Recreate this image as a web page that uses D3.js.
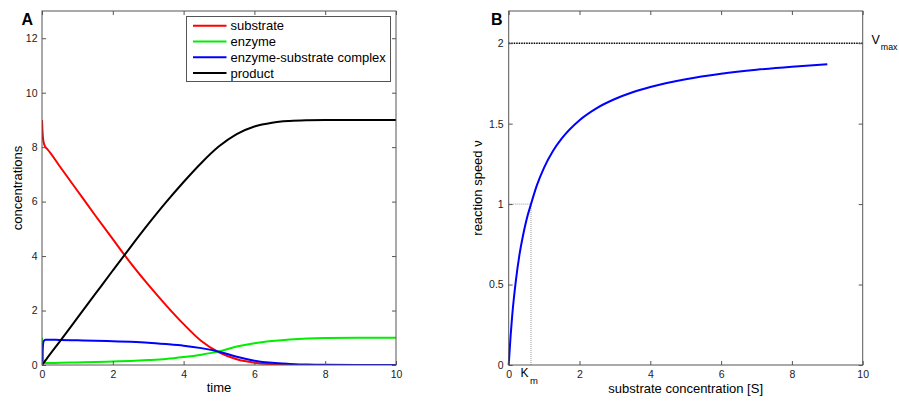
<!DOCTYPE html>
<html>
<head>
<meta charset="utf-8">
<script src="https://cdn.jsdelivr.net/npm/d3@7"></script>
<style>
  html, body { margin: 0; padding: 0; background: #fff; }
  svg { display: block; font-family: "Liberation Sans", Arial, Helvetica, sans-serif; }
</style>
</head>
<body>
<svg id="chart" width="899" height="401"></svg>
<script>
// ---- Panel A: time course of the enzyme reaction ----
const timePoints = [0, 0.02, 0.05, 0.1, 0.15, 0.5, 1, 1.5, 2, 2.5, 3, 3.5, 4, 4.5, 5, 5.5, 6, 6.5, 7, 7.5, 8, 9, 10];
const substrate  = [9.0, 8.45, 8.15, 8.0, 7.93, 7.3, 6.4, 5.5, 4.62, 3.75, 2.95, 2.2, 1.5, 0.88, 0.46, 0.21, 0.085, 0.03, 0.01, 0.003, 0.001, 0, 0];
const enzyme     = [1.0, 0.4, 0.12, 0.075, 0.07, 0.08, 0.095, 0.11, 0.13, 0.15, 0.18, 0.22, 0.29, 0.38, 0.5, 0.68, 0.8, 0.88, 0.94, 0.975, 0.99, 0.998, 1.0];
const complex    = [0, 0.6, 0.88, 0.925, 0.93, 0.92, 0.905, 0.89, 0.87, 0.85, 0.82, 0.77, 0.71, 0.62, 0.49, 0.3, 0.16, 0.08, 0.04, 0.015, 0.006, 0.001, 0];
const product    = [0, 0.03, 0.08, 0.17, 0.26, 0.86, 1.73, 2.6, 3.47, 4.33, 5.17, 5.97, 6.72, 7.42, 8.03, 8.48, 8.76, 8.9, 8.96, 8.985, 8.995, 9.0, 9.0];
const seriesNames  = ["substrate", "enzyme", "enzyme-substrate complex", "product"];
const seriesColors = ["#ff0000", "#00ee00", "#0000ff", "#000000"];
const timeTicks = [0, 2, 4, 6, 8, 10];
const concTicks = [0, 2, 4, 6, 8, 10, 12];

// ---- Panel B: Michaelis-Menten saturation curve ----
const substrateConc = [0, 0.05, 0.1, 0.2, 0.3, 0.4, 0.5, 0.63, 0.8, 1, 1.25, 1.5, 2, 2.5, 3, 3.5, 4, 5, 6, 7, 8, 9];
const reactionSpeed = [0, 0.17, 0.31, 0.52, 0.68, 0.8, 0.9, 1.0, 1.119, 1.227, 1.33, 1.408, 1.521, 1.598, 1.653, 1.695, 1.728, 1.776, 1.81, 1.835, 1.854, 1.869];
const vMax = 2;
const kM = 0.63;
const sTicks = [0, 2, 4, 6, 8, 10];
const vTicks = [0, 0.5, 1, 1.5, 2];

const svg = d3.select("#chart");
svg.append("rect").attr("width", 899).attr("height", 401).attr("fill", "#fff");

const axisColor = "#555";
const textColor = "#222";
const tickLen = 4;

function drawFrame(g, x, y, xTicks, yTicks, padX, padY) {
  const [x0, x1] = x.range();
  const [y0, y1] = y.range();
  const styleAxis = sel => {
    sel.select(".domain").remove();
    sel.selectAll(".tick line").attr("stroke", axisColor).attr("stroke-width", 1);
    sel.selectAll(".tick text").attr("fill", textColor).attr("font-size", "10.5px")
      .attr("font-family", "Liberation Sans, Arial, sans-serif");
  };
  g.append("g").attr("transform", `translate(0,${y0})`)
    .call(d3.axisBottom(x).tickValues(xTicks).tickSize(-tickLen).tickPadding(padX).tickFormat(d3.format("")))
    .call(styleAxis);
  g.append("g").attr("transform", `translate(0,${y1})`)
    .call(d3.axisTop(x).tickValues(xTicks).tickSize(-tickLen).tickFormat(""))
    .call(styleAxis);
  g.append("g").attr("transform", `translate(${x0},0)`)
    .call(d3.axisLeft(y).tickValues(yTicks).tickSize(-tickLen).tickPadding(padY).tickFormat(d3.format("")))
    .call(styleAxis);
  g.append("g").attr("transform", `translate(${x1},0)`)
    .call(d3.axisRight(y).tickValues(yTicks).tickSize(-tickLen).tickFormat(""))
    .call(styleAxis);
  g.append("rect")
    .attr("x", x0).attr("y", y1).attr("width", x1 - x0).attr("height", y0 - y1)
    .attr("fill", "none").attr("stroke", axisColor).attr("stroke-width", 1);
}

// ================= Panel A =================
const gA = svg.append("g");
const xA = d3.scaleLinear().domain([0, 10]).range([42, 396]);
const yA = d3.scaleLinear().domain([0, 13]).range([365, 11]);

gA.append("clipPath").attr("id", "clipA").append("rect")
  .attr("x", 42).attr("y", 11).attr("width", 354).attr("height", 354);

const seriesA = [substrate, enzyme, complex, product];
const lineA = d3.line().x(d => xA(d[0])).y(d => yA(d[1])).curve(d3.curveMonotoneX);
// draw order: substrate, enzyme, complex, product on top
[0, 1, 2, 3].forEach(i => {
  gA.append("path")
    .datum(timePoints.map((t, k) => [t, seriesA[i][k]]))
    .attr("d", lineA)
    .attr("fill", "none")
    .attr("stroke", seriesColors[i])
    .attr("stroke-width", 2)
    .attr("stroke-linejoin", "round")
    .attr("clip-path", "url(#clipA)");
});

drawFrame(gA, xA, yA, timeTicks, concTicks, 5.5, 4.5);

// legend
const leg = gA.append("g");
leg.append("rect").attr("x", 186.5).attr("y", 16.5).attr("width", 204).attr("height", 65)
  .attr("fill", "#fff").attr("stroke", axisColor).attr("stroke-width", 1);
seriesNames.forEach((name, i) => {
  const cy = 25.7 + i * 15.8;
  leg.append("line").attr("x1", 193).attr("x2", 226.5).attr("y1", cy).attr("y2", cy)
    .attr("stroke", seriesColors[i]).attr("stroke-width", 2);
  leg.append("text").attr("x", 230.5).attr("y", cy + 4.6)
    .attr("font-size", "13px").attr("fill", "#000").text(name);
});

gA.append("text").attr("x", 219).attr("y", 391.5).attr("text-anchor", "middle")
  .attr("font-size", "13px").attr("fill", "#000").text("time");
gA.append("text").attr("transform", "translate(21.5,188) rotate(-90)").attr("text-anchor", "middle")
  .attr("font-size", "13px").attr("fill", "#000").text("concentrations");
gA.append("text").attr("x", 21.5).attr("y", 24.5)
  .attr("font-size", "16px").attr("font-weight", "bold").attr("fill", "#000").text("A");

// ================= Panel B =================
const gB = svg.append("g");
const xB = d3.scaleLinear().domain([0, 10]).range([508.7, 862.7]);
const yB = d3.scaleLinear().domain([0, 2.2]).range([365, 11]);

// Km guide lines
gB.append("line").attr("x1", xB(0)).attr("x2", xB(kM)).attr("y1", yB(vMax / 2)).attr("y2", yB(vMax / 2))
  .attr("stroke", "#999").attr("stroke-width", 1).attr("stroke-dasharray", "1,1");
gB.append("line").attr("x1", xB(kM)).attr("x2", xB(kM)).attr("y1", yB(0)).attr("y2", yB(vMax / 2))
  .attr("stroke", "#999").attr("stroke-width", 1).attr("stroke-dasharray", "1,1");

// Vmax asymptote
gB.append("line").attr("x1", xB(0)).attr("x2", xB(10)).attr("y1", yB(vMax)).attr("y2", yB(vMax))
  .attr("stroke", "#000").attr("stroke-width", 1.5).attr("stroke-dasharray", "1.5,1");

const lineB = d3.line().x(d => xB(d[0])).y(d => yB(d[1])).curve(d3.curveMonotoneX);
gB.append("path")
  .datum(substrateConc.map((s, k) => [s, reactionSpeed[k]]))
  .attr("d", lineB)
  .attr("fill", "none").attr("stroke", "#0000ff").attr("stroke-width", 2).attr("stroke-linejoin", "round");

drawFrame(gB, xB, yB, sTicks, vTicks, 5.5, 5);

// Vmax label, kept inside the right edge
const vLab = gB.append("text").attr("x", 871.5).attr("y", 43.5).attr("font-size", "12.5px").attr("fill", "#000");
vLab.append("tspan").text("V");
vLab.append("tspan").attr("dx", 1).attr("dy", 6.5).attr("font-size", "8.8px").text("max");

// Km label
const kLab = gB.append("text").attr("x", 520.5).attr("y", 377).attr("font-size", "12px").attr("fill", "#000");
kLab.append("tspan").text("K");
kLab.append("tspan").attr("dx", 1.5).attr("dy", 6.5).attr("font-size", "9.5px").text("m");

gB.append("text").attr("x", 685.7).attr("y", 392.5).attr("text-anchor", "middle")
  .attr("font-size", "13px").attr("fill", "#000").text("substrate concentration [S]");
gB.append("text").attr("transform", "translate(481.5,188) rotate(-90)").attr("text-anchor", "middle")
  .attr("font-size", "13px").attr("fill", "#000").text("reaction speed ν");
gB.append("text").attr("x", 491).attr("y", 24.5)
  .attr("font-size", "16px").attr("font-weight", "bold").attr("fill", "#000").text("B");
</script>
</body>
</html>
